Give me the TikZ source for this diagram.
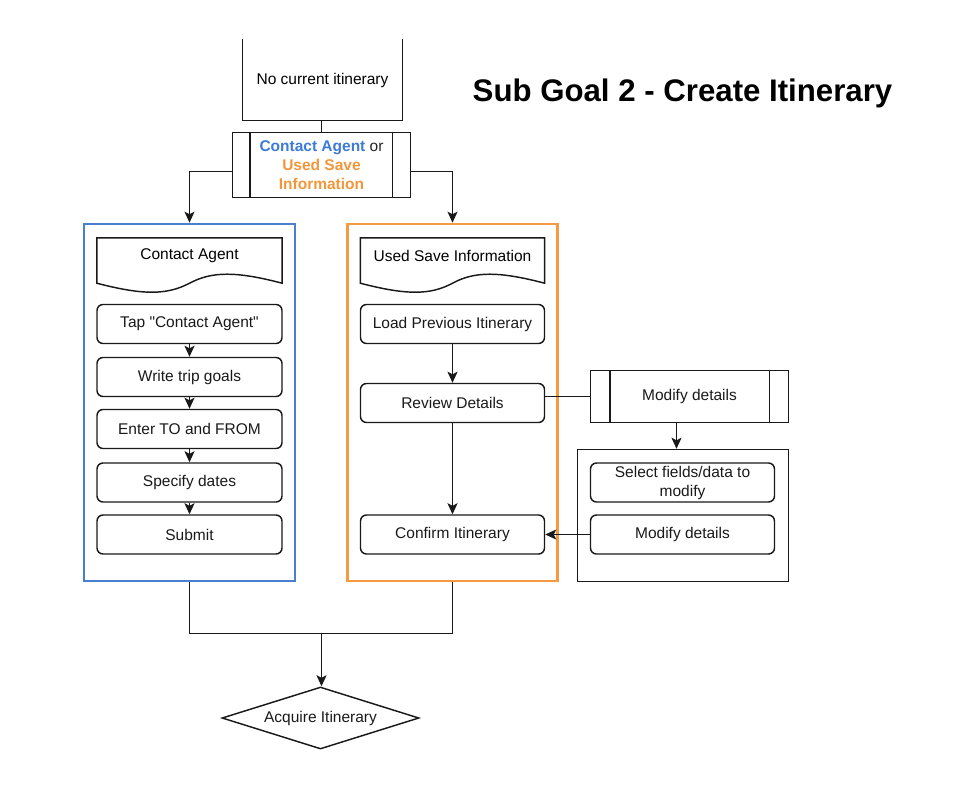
\documentclass[tikz,border=0pt]{standalone}
\usepackage{fontspec}
\setmainfont{Liberation Sans}[Ligatures=TeXOff]
\usetikzlibrary{arrows.meta,calc,shapes.geometric}
\definecolor{cblue}{HTML}{4A7FD0}
\definecolor{corange}{HTML}{F39A43}
\definecolor{tblue}{HTML}{3D7BD6}
\definecolor{torange}{HTML}{F3963A}
\begin{document}
\begin{tikzpicture}[x=1pt,y=-1pt,
  font=\fontsize{15.5}{19}\selectfont,
  ln/.style={line width=1.45pt,black!90},
  arr/.style={ln,-{Stealth[length=11pt,width=10pt,inset=2.5pt]}},
  rbox/.style={draw,ln,rounded corners=6pt,minimum width=185pt,minimum height=39pt,inner sep=0pt,align=center},
  plain/.style={inner sep=0pt,align=center},
  cont/.style={draw,line width=2.6pt,inner sep=0pt}]
\useasboundingbox (0,0) rectangle (955,801);

% title
\node[plain,font=\fontsize{31.2}{35}\selectfont\bfseries] (title) at (682.5,93) {Sub Goal 2 - Create Itinerary};

% no current itinerary (open top)
\node[plain,minimum width=160pt,minimum height=81pt] (nci) at (322.5,80) {No current itinerary};
\draw[ln] (nci.north west) -- (nci.south west) -- (nci.south east) -- (nci.north east);

% process box
\node[draw,ln,minimum width=178pt,minimum height=65pt,inner sep=0pt,align=center,
  font=\fontsize{15.5}{19}\selectfont\bfseries] (proc) at (321.5,165)
  {\textcolor{tblue}{Contact Agent} \textcolor{black!85}{\mdseries or}\\
   \textcolor{torange}{Used Save}\\\textcolor{torange}{Information}};
\draw[ln] ([xshift=18pt]proc.north west) -- ([xshift=18pt]proc.south west);
\draw[ln] ([xshift=-19pt]proc.north east) -- ([xshift=-19pt]proc.south east);

% containers
\node[cont,draw=cblue,minimum width=211pt,minimum height=357pt] (blue) at (189.5,402.5) {};
\node[cont,draw=corange,minimum width=210pt,minimum height=357pt] (orange) at (452.5,402.5) {};

\draw[arr] ([yshift=-6.5pt]proc.west) -| (blue.north);
\draw[arr] ([yshift=-6.5pt]proc.east) -| (orange.north);
\draw[ln] (nci.south -| proc.north) -- (proc.north);

% document shapes
\node[plain,minimum width=185pt,minimum height=36pt] (docA) at (189.5,256) {Contact Agent};
\draw[ln] (docA.south west) -- (docA.north west) -- (docA.north east) -- ($(docA.south east)+(0,9)$)
  .. controls ($(docA.south east)+(-46,-3)$) and ($(docA.south east)+(-70,-3)$) .. ($(docA.south)+(0,9)$)
  .. controls ($(docA.south west)+(70,21)$) and ($(docA.south west)+(46,21)$) .. ($(docA.south west)+(0,9)$) -- cycle;
\node[plain,minimum width=184pt,minimum height=36pt] (docB) at (452.5,256) {Used Save Information};
\draw[ln] (docB.south west) -- (docB.north west) -- (docB.north east) -- ($(docB.south east)+(0,9)$)
  .. controls ($(docB.south east)+(-46,-3)$) and ($(docB.south east)+(-70,-3)$) .. ($(docB.south)+(0,9)$)
  .. controls ($(docB.south west)+(70,21)$) and ($(docB.south west)+(46,21)$) .. ($(docB.south west)+(0,9)$) -- cycle;

% blue steps
\node[rbox] (tap) at (189.5,324) {Tap "Contact Agent"};
\node[rbox] (write) at (189.5,377) {Write trip goals};
\node[rbox] (enter) at (189.5,429) {Enter TO and FROM};
\node[rbox] (spec) at (189.5,482.5) {Specify dates};
\node[rbox] (sub) at (189.5,534.5) {Submit};
\draw[arr] (tap) -- (write);
\draw[arr] (write) -- (enter);
\draw[arr] (enter) -- (spec);
\draw[arr] (spec) -- (sub);

% orange steps
\node[rbox,minimum width=184pt] (load) at (452.5,324) {Load Previous Itinerary};
\node[rbox,minimum width=184pt] (rev) at (452.5,403) {Review Details};
\node[rbox,minimum width=184pt] (conf) at (452.5,534.5) {Confirm Itinerary};
\draw[arr] (load) -- (rev);
\draw[arr] (rev) -- (conf);

% modify process
\node[draw,ln,minimum width=198pt,minimum height=52pt,inner sep=0pt] (modp) at (689.5,396.5) {Modify details};
\draw[ln] ([xshift=20pt]modp.north west) -- ([xshift=20pt]modp.south west);
\draw[ln] ([xshift=-20pt]modp.north east) -- ([xshift=-20pt]modp.south east);
\draw[ln] (rev.east |- modp.west) -- (modp.west);

% modify container
\node[draw,ln,minimum width=211pt,minimum height=132pt,inner sep=0pt] (mcont) at (683,515.5) {};
\draw[arr] (modp.south -| 676.5,0) -- ($(mcont.north)+(-6.5,0)$);
\node[rbox,minimum width=184pt] (sel) at (682.5,482.5) {Select fields/data to\\modify};
\node[rbox,minimum width=184pt] (mod) at (682.5,534.5) {Modify details};
\draw[arr] (mod) -- (conf);

% join
\coordinate (join) at (321.5,633.5);
\node[draw,ln,shape=diamond,aspect=3.18,minimum width=197pt,minimum height=62pt,inner sep=0pt] (acq) at (320.5,718) {Acquire Itinerary};
\draw[ln] (blue.south) |- (join);
\draw[ln] (orange.south) |- (join);
\draw[arr] (join) -- (join |- acq.north);
\end{tikzpicture}
\end{document}
